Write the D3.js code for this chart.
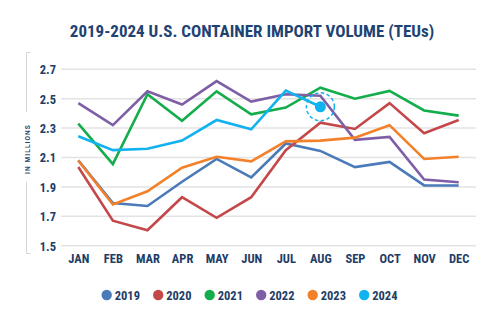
<!DOCTYPE html>
<html>
<head>
<meta charset="utf-8">
<script src="https://cdn.jsdelivr.net/npm/d3@7"></script>
<style>
  html, body { margin: 0; padding: 0; background: #fff; }
  svg { display: block; }
  .cond { font-family: "Roboto Condensed", "Liberation Sans Narrow", "Arial Narrow", Roboto, sans-serif; font-weight: 700; }
</style>
</head>
<body>
<svg id="chart" width="500" height="324"></svg>
<script>
const months = ["JAN","FEB","MAR","APR","MAY","JUN","JUL","AUG","SEP","OCT","NOV","DEC"];
const yTicks = [1.5, 1.7, 1.9, 2.1, 2.3, 2.5, 2.7];
const years = ["2019","2020","2021","2022","2023","2024"];
const colors = ["#4a7ab8","#c4474a","#14ad4b","#7e5fa6","#f3812a","#10b2ef"];

const v2019 = [2.08, 1.79, 1.77, 1.935, 2.09, 1.965, 2.195, 2.145, 2.035, 2.07, 1.91, 1.91];
const v2020 = [2.035, 1.67, 1.605, 1.83, 1.69, 1.83, 2.15, 2.337, 2.294, 2.47, 2.265, 2.355];
const v2021 = [2.33, 2.055, 2.53, 2.35, 2.55, 2.394, 2.44, 2.575, 2.50, 2.553, 2.42, 2.385];
const v2022 = [2.47, 2.32, 2.55, 2.46, 2.62, 2.48, 2.53, 2.52, 2.22, 2.24, 1.95, 1.932];
const v2023 = [2.08, 1.78, 1.87, 2.03, 2.105, 2.074, 2.21, 2.215, 2.235, 2.32, 2.09, 2.105];
const v2024 = [2.245, 2.15, 2.16, 2.215, 2.355, 2.292, 2.555, 2.445];
const seriesValues = [v2019, v2020, v2021, v2022, v2023, v2024];

const svg = d3.select("#chart");
const navy = "#1f3d66";

// Title
svg.append("text").attr("class","cond")
  .attr("x", 252).attr("y", 37)
  .attr("text-anchor","middle")
  .attr("font-size", 17)
  .attr("fill", "#1e4373")
  .text("2019-2024 U.S. CONTAINER IMPORT VOLUME (TEUs)");

const x = d3.scalePoint().domain(months).range([61, 476]).padding(0.5);
const y = d3.scaleLinear().domain([1.5, 2.7]).range([245.7, 69.3]);

// Gridlines
svg.append("g").selectAll("line").data(yTicks).join("line")
  .attr("x1", 61).attr("x2", 476)
  .attr("y1", d => y(d)).attr("y2", d => y(d))
  .attr("stroke", "#e3e3e3").attr("stroke-width", 1.5);

// Y axis labels
const yAxis = d3.axisLeft(y).tickValues(yTicks).tickSize(0).tickPadding(0).tickFormat(d3.format(".1f"));
const yg = svg.append("g").attr("transform", "translate(56,0)").call(yAxis);
yg.select(".domain").remove();
yg.selectAll("text").attr("class","cond").attr("font-size", 12.5).attr("fill", navy).attr("dy","0.35em");

// X axis labels
const xAxis = d3.axisBottom(x).tickSize(0).tickPadding(0);
const xg = svg.append("g").attr("transform", "translate(0,254)").call(xAxis);
xg.select(".domain").remove();
xg.selectAll("text").attr("class","cond").attr("font-size", 12.5).attr("fill", navy).attr("dy","0.71em");

// Y bracket
const br = svg.append("g").attr("stroke", "#d4d4d4").attr("stroke-width", 1).attr("fill","none");
br.append("path").attr("d", "M30.5,52.5 H26.5 V112");
br.append("path").attr("d", "M26.5,182 V253.5 H30.5");
svg.append("text")
  .attr("transform", "translate(29.5,149) rotate(-90)")
  .attr("text-anchor","middle")
  .attr("font-family", "Roboto, sans-serif").attr("font-weight", 700)
  .attr("font-size", 6.5).attr("letter-spacing", 1.1)
  .attr("fill", "#2b4a72")
  .text("IN MILLIONS");

// Lines
const line = d3.line().x((d, i) => x(months[i])).y(d => y(d));
svg.append("g").selectAll("path").data(seriesValues).join("path")
  .attr("d", d => line(d))
  .attr("fill","none")
  .attr("stroke", (d, i) => colors[i])
  .attr("stroke-width", 2.6)
  .attr("stroke-linejoin","miter");

// Latest 2024 point highlight
const lastIdx = v2024.length - 1;
const lx = x(months[lastIdx]), ly = y(v2024[lastIdx]);
svg.append("circle").attr("cx", lx).attr("cy", ly).attr("r", 14)
  .attr("fill","none").attr("stroke", colors[5]).attr("stroke-width", 1.5)
  .attr("stroke-dasharray", "3.5,2.5");
svg.append("circle").attr("cx", lx).attr("cy", ly).attr("r", 5.5).attr("fill", colors[5]);

// Legend
const lg = svg.append("g").selectAll("g").data(years).join("g")
  .attr("transform", (d, i) => `translate(${106.7 + i * 51.5},295)`);
lg.append("circle").attr("r", 5.2).attr("fill", (d, i) => colors[i]);
lg.append("text").attr("class","cond").attr("x", 8).attr("dy","0.36em")
  .attr("font-size", 12.5).attr("fill", navy).text(d => d);
</script>
</body>
</html>
